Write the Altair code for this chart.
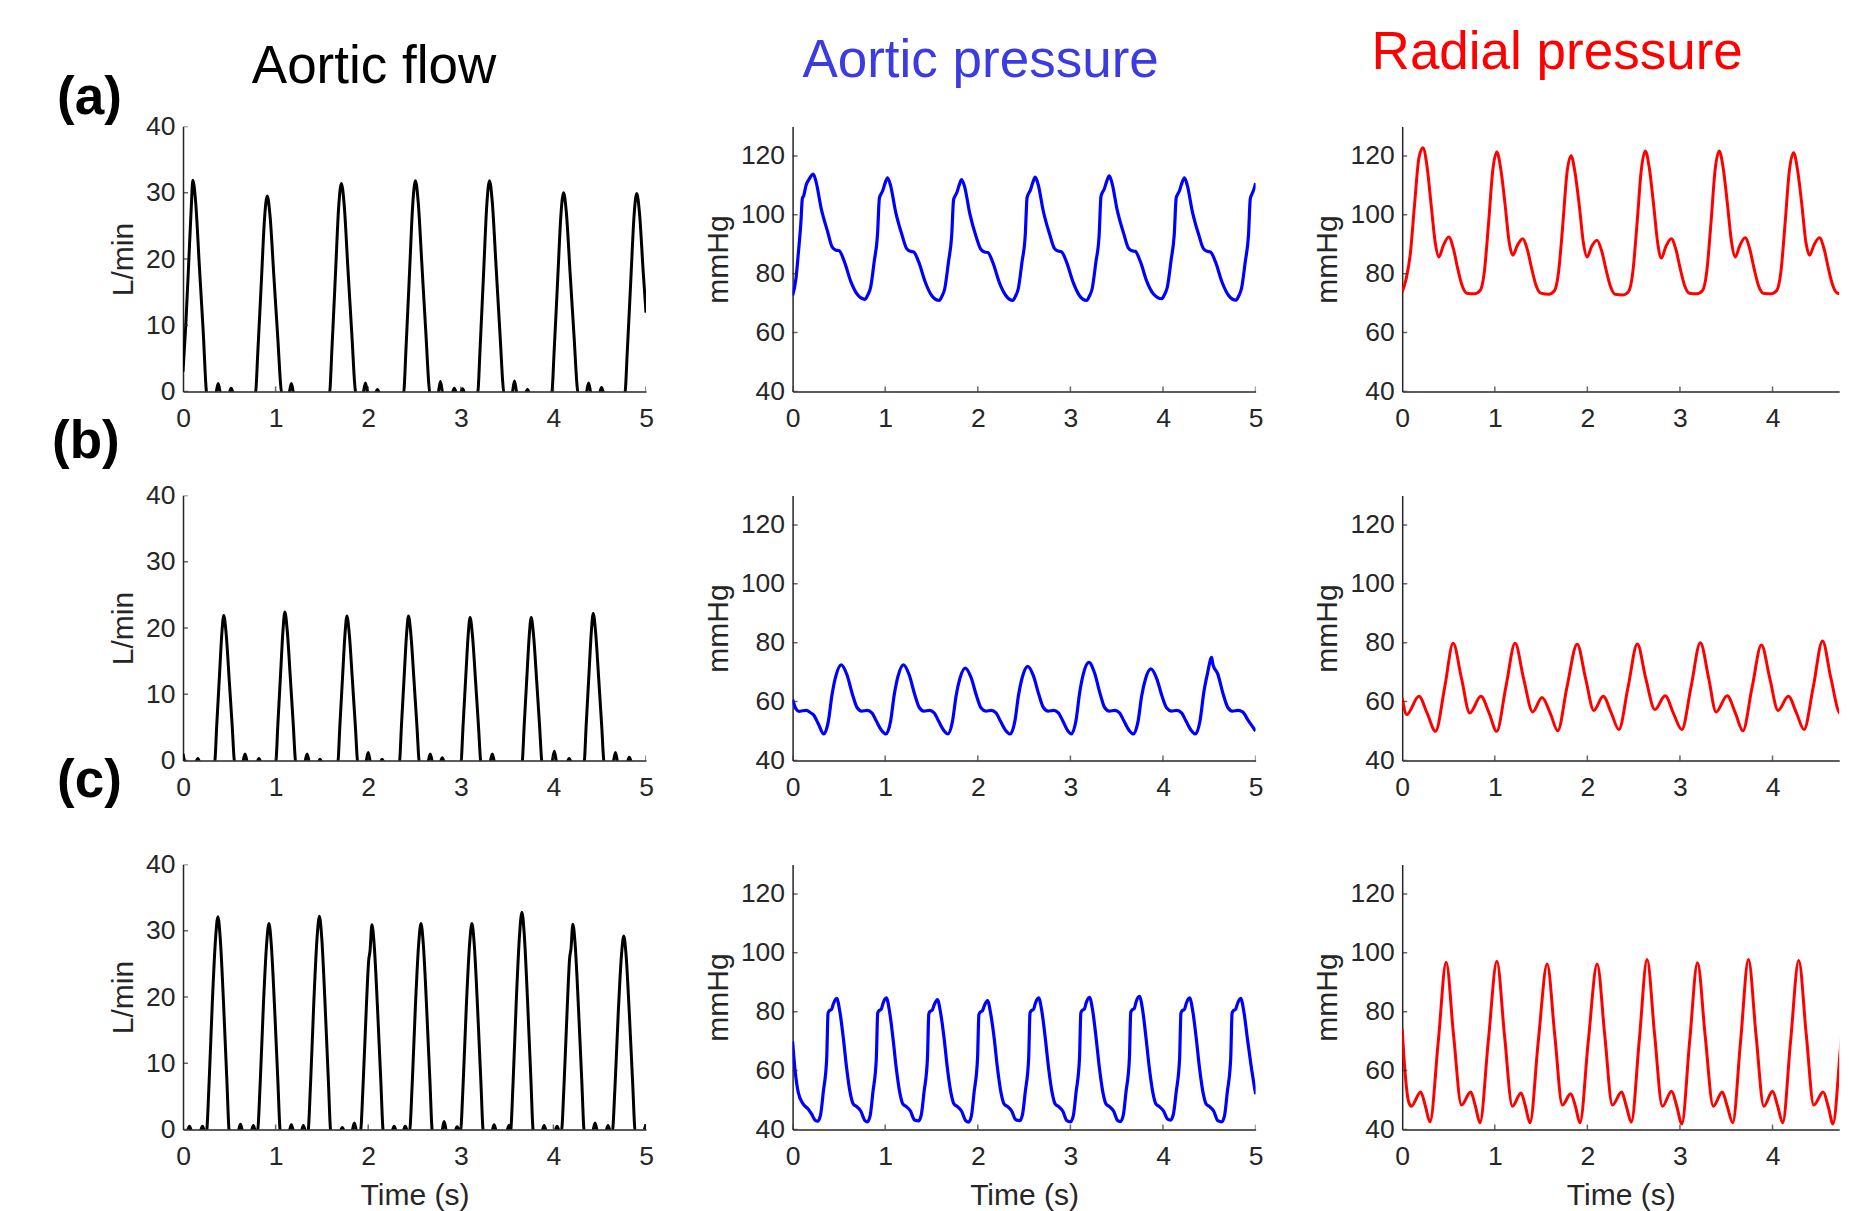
import altair as alt
import pandas as pd

# ---------------- tick values ----------------
TIME_TICKS = [0, 1, 2, 3, 4, 5]
TIME_TICKS_CUT = [0, 1, 2, 3, 4]
FLOW_TICKS = [0, 10, 20, 30, 40]
PRESS_TICKS = [40, 60, 80, 100, 120]

# ---------------- (a) aortic flow ----------------
FLOW_A = [
    (0, 3), (0.03, 10), (0.07, 22), (0.09, 28), (0.106, 31.9), (0.136, 28.7), (0.176, 19.1), (0.216, 9.6), (0.26, -0.5),
    (0.35, -0.5), (0.38, 1.2), (0.41, -0.5), (0.49, -0.5), (0.52, 0.5), (0.55, -0.5),
    (0.78, -0.5), (0.81, 6.5), (0.85, 17.7), (0.88, 26), (0.91, 29.5), (0.94, 26.5), (0.98, 17.7), (1.02, 8.9), (1.07, -0.5),
    (1.14, -0.5), (1.17, 1.2), (1.20, -0.5),
    (1.58, -0.5), (1.61, 6.9), (1.65, 18.8), (1.68, 27.6), (1.71, 31.4), (1.74, 28.3), (1.78, 18.8), (1.82, 9.4), (1.87, -0.5),
    (1.94, -0.5), (1.97, 1.3), (2.00, -0.5), (2.07, -0.5), (2.10, 0.3), (2.13, -0.5),
    (2.38, -0.5), (2.41, 7.0), (2.45, 19.1), (2.48, 28), (2.51, 31.8), (2.54, 28.6), (2.58, 19.1), (2.62, 9.5), (2.67, -0.5),
    (2.75, -0.5), (2.78, 1.5), (2.81, -0.5), (2.90, -0.5), (2.93, 0.5), (2.96, -0.5), (2.99, -0.5), (3.02, 0.4), (3.05, -0.5),
    (3.18, -0.5), (3.21, 7.0), (3.25, 19.1), (3.28, 28), (3.31, 31.8), (3.34, 28.6), (3.38, 19.1), (3.42, 9.5), (3.47, -0.5),
    (3.55, -0.5), (3.58, 1.6), (3.61, -0.5), (3.69, -0.5), (3.72, 0.3), (3.75, -0.5),
    (3.98, -0.5), (4.01, 6.6), (4.05, 18), (4.08, 26.4), (4.11, 30), (4.14, 27), (4.18, 18), (4.22, 9), (4.27, -0.5),
    (4.35, -0.5), (4.38, 1.3), (4.41, -0.5), (4.49, -0.5), (4.52, 0.6), (4.55, -0.5),
    (4.77, -0.5), (4.80, 6.6), (4.84, 18), (4.87, 26.3), (4.90, 29.9), (4.93, 26.9), (4.97, 18), (5.0, 11.9),
]

# ---------------- (b) aortic flow ----------------
FLOW_B = [
    (0.0, 1.0), (0.03, -0.5), (0.13, -0.5), (0.16, 0.3), (0.19, -0.5),
    (0.34, -0.5), (0.365, 5.5), (0.395, 13.1), (0.42, 19.3), (0.44, 21.9), (0.465, 19.3), (0.50, 12), (0.53, 5.5), (0.56, -0.5),
    (0.64, -0.5), (0.67, 1.0), (0.70, -0.5), (0.79, -0.5), (0.82, 0.3), (0.85, -0.5),
    (1.00, -0.5), (1.025, 5.6), (1.055, 13.4), (1.08, 19.7), (1.10, 22.4), (1.125, 19.7), (1.16, 12.3), (1.19, 5.6), (1.22, -0.5),
    (1.31, -0.5), (1.34, 1.0), (1.37, -0.5), (1.45, -0.5), (1.48, 0.2), (1.51, -0.5),
    (1.67, -0.5), (1.695, 5.5), (1.725, 13.1), (1.75, 19.2), (1.77, 21.8), (1.795, 19.2), (1.83, 12), (1.86, 5.5), (1.89, -0.5),
    (1.97, -0.5), (2.00, 1.2), (2.03, -0.5), (2.12, -0.5), (2.15, 0.2), (2.18, -0.5),
    (2.335, -0.5), (2.36, 5.5), (2.39, 13.1), (2.415, 19.2), (2.435, 21.8), (2.46, 19.2), (2.495, 12), (2.525, 5.5), (2.555, -0.5),
    (2.64, -0.5), (2.67, 1.0), (2.70, -0.5), (2.77, -0.5), (2.80, 0.4), (2.83, -0.5),
    (3.00, -0.5), (3.025, 5.4), (3.055, 13), (3.08, 19), (3.10, 21.6), (3.125, 19), (3.16, 11.9), (3.19, 5.4), (3.22, -0.5),
    (3.31, -0.5), (3.34, 1.0), (3.37, -0.5),
    (3.66, -0.5), (3.685, 5.4), (3.715, 13), (3.74, 19), (3.76, 21.6), (3.785, 19), (3.82, 11.9), (3.85, 5.4), (3.88, -0.5),
    (3.98, -0.5), (4.01, 1.4), (4.04, -0.5), (4.14, -0.5), (4.17, 0.3), (4.20, -0.5),
    (4.33, -0.5), (4.355, 5.6), (4.385, 13.3), (4.41, 19.5), (4.43, 22.2), (4.455, 19.5), (4.49, 12.2), (4.52, 5.6), (4.55, -0.5),
    (4.64, -0.5), (4.67, 1.2), (4.70, -0.5), (4.79, -0.5), (4.82, 0.5), (4.85, -0.5), (5.0, -0.5),
]

# ---------------- (c) aortic flow ----------------
FLOW_C = [
    (0.0, -0.5), (0.04, -0.5), (0.07, 0.5), (0.10, -0.5), (0.18, -0.5), (0.21, 0.5), (0.24, -0.5),
    (0.252, -0.5), (0.282, 7.1), (0.317, 19.3), (0.352, 28.9), (0.377, 32.1), (0.402, 28.9), (0.437, 19.3), (0.472, 8), (0.502, -0.5),
    (0.59, -0.5), (0.62, 0.8), (0.65, -0.5), (0.73, -0.5), (0.76, 0.6), (0.79, -0.5),
    (0.803, -0.5), (0.833, 6.8), (0.868, 18.7), (0.903, 28), (0.928, 31.1), (0.953, 28), (0.988, 18.7), (1.023, 7.8), (1.053, -0.5),
    (1.14, -0.5), (1.17, 0.7), (1.20, -0.5), (1.27, -0.5), (1.30, 0.6), (1.33, -0.5),
    (1.348, -0.5), (1.378, 7.1), (1.413, 19.3), (1.448, 29), (1.473, 32.2), (1.498, 29), (1.533, 19.3), (1.568, 8), (1.598, -0.5),
    (1.69, -0.5), (1.72, 0.3), (1.75, -0.5), (1.82, -0.5), (1.85, 1.0), (1.88, -0.5),
    (1.915, -0.5), (1.945, 6.8), (1.98, 18.5), (2.005, 25.5), (2.02, 27), (2.04, 30.9), (2.065, 27.8), (2.10, 18.5), (2.135, 7.7), (2.165, -0.5),
    (2.25, -0.5), (2.28, 0.5), (2.31, -0.5), (2.37, -0.5), (2.40, 0.5), (2.43, -0.5),
    (2.445, -0.5), (2.475, 6.8), (2.51, 18.7), (2.545, 28), (2.57, 31.1), (2.595, 28), (2.63, 18.7), (2.665, 7.8), (2.695, -0.5),
    (2.79, -0.5), (2.82, 1.2), (2.85, -0.5), (2.93, -0.5), (2.96, 0.4),
    (2.995, -0.5), (3.025, 6.8), (3.06, 18.7), (3.095, 28), (3.12, 31.1), (3.145, 28), (3.18, 18.7), (3.215, 7.8), (3.245, -0.5),
    (3.33, -0.5), (3.36, 0.7), (3.39, -0.5), (3.49, -0.5), (3.52, 0.6),
    (3.535, -0.5), (3.565, 7.2), (3.60, 19.7), (3.635, 29.5), (3.66, 32.8), (3.685, 29.5), (3.72, 19.7), (3.755, 8.2), (3.785, -0.5),
    (3.87, -0.5), (3.90, 0.6), (3.93, -0.5), (4.01, -0.5), (4.04, 0.5), (4.07, -0.5),
    (4.085, -0.5), (4.115, 6.8), (4.15, 18.6), (4.175, 25.8), (4.19, 27.3), (4.21, 31), (4.235, 27.9), (4.27, 18.6), (4.305, 7.8), (4.335, -0.5),
    (4.42, -0.5), (4.45, 1.0), (4.48, -0.5), (4.56, -0.5), (4.59, 0.6), (4.62, -0.5),
    (4.635, -0.5), (4.665, 6.4), (4.70, 17.5), (4.735, 26.3), (4.76, 29.2), (4.785, 26.3), (4.82, 17.5), (4.855, 7.3), (4.885, -0.5),
    (4.96, -0.5), (5.0, 0.8),
]

# ---------------- (a) aortic pressure ----------------
AORTIC_A = [
    (0.000, 72.6), (0.036, 78.3), (0.065, 88.0), (0.090, 97.6), (0.105, 105.5), (0.120, 106.5), (0.145, 110.0), (0.180, 112.2),
    (0.223, 113.8), (0.253, 111.3), (0.308, 102.3), (0.378, 94.3), (0.428, 89.0), (0.468, 88.0), (0.503, 87.8), (0.558, 84.2),
    (0.628, 77.4), (0.698, 73.0),
    (0.782, 71.3), (0.812, 72.8), (0.842, 75.3), (0.882, 84.3), (0.917, 93.3), (0.937, 105.6), (0.947, 106.6), (0.972, 108.1),
    (0.997, 110.6), (1.025, 112.6), (1.057, 110.1), (1.112, 101.1), (1.182, 93.1), (1.232, 88.5), (1.272, 87.6), (1.307, 87.4),
    (1.362, 84.0), (1.432, 77.2), (1.502, 72.6),
    (1.583, 70.9), (1.613, 72.4), (1.643, 74.9), (1.683, 83.9), (1.718, 92.9), (1.738, 105.0), (1.748, 106.0), (1.773, 107.5),
    (1.798, 110.0), (1.825, 112.0), (1.858, 109.5), (1.913, 100.5), (1.983, 92.5), (2.033, 88.3), (2.073, 87.4), (2.108, 87.2),
    (2.163, 83.8), (2.233, 77.0), (2.303, 72.6),
    (2.377, 70.9), (2.407, 72.4), (2.437, 74.9), (2.477, 83.9), (2.512, 92.9), (2.532, 105.8), (2.542, 106.8), (2.567, 108.3),
    (2.592, 110.8), (2.620, 112.8), (2.652, 110.3), (2.707, 101.3), (2.777, 93.3), (2.827, 88.6), (2.867, 87.7), (2.902, 87.5),
    (2.957, 84.1), (3.027, 77.3), (3.097, 72.6),
    (3.175, 70.9), (3.205, 72.4), (3.235, 74.9), (3.275, 83.9), (3.310, 92.9), (3.330, 106.2), (3.340, 107.2), (3.365, 108.7),
    (3.390, 111.2), (3.420, 113.2), (3.450, 110.7), (3.505, 101.7), (3.575, 93.7), (3.625, 88.8), (3.665, 87.8), (3.700, 87.6),
    (3.755, 84.2), (3.825, 77.4), (3.895, 73.2),
    (3.987, 71.5), (4.017, 73.0), (4.047, 75.5), (4.087, 84.5), (4.122, 93.5), (4.142, 105.6), (4.152, 106.6), (4.177, 108.1),
    (4.202, 110.6), (4.232, 112.6), (4.262, 110.1), (4.317, 101.1), (4.387, 93.1), (4.437, 88.5), (4.477, 87.6), (4.512, 87.4),
    (4.567, 84.0), (4.637, 77.2), (4.707, 72.7),
    (4.788, 71.0), (4.818, 72.5), (4.848, 75.0), (4.888, 84.0), (4.923, 93.0), (4.943, 105.5), (4.960, 107.0), (4.980, 108.5),
    (5.000, 110.8),
]

# ---------------- (b) aortic pressure ----------------
AORTIC_B = [
    (0.000, 60.7), (0.035, 57.6), (0.070, 56.7), (0.110, 56.9), (0.150, 57.0), (0.190, 56.3), (0.230, 55.4), (0.280, 52.3),
    (0.336, 49.0), (0.386, 53.3), (0.426, 62.4), (0.466, 68.6), (0.526, 72.5), (0.586, 69.2), (0.646, 62.5), (0.696, 58.0),
    (0.746, 56.8), (0.806, 57.0), (0.856, 56.2), (0.906, 53.3), (0.961, 50.2),
    (1.008, 49.0), (1.058, 53.3), (1.098, 62.4), (1.138, 68.6), (1.198, 72.5), (1.258, 69.2), (1.318, 62.5), (1.368, 58.0),
    (1.418, 56.8), (1.478, 57.0), (1.528, 56.2), (1.578, 53.3), (1.633, 50.2),
    (1.676, 49.0), (1.726, 53.2), (1.766, 62.0), (1.806, 67.8), (1.866, 71.4), (1.926, 68.3), (1.986, 62.0), (2.036, 57.8),
    (2.086, 56.8), (2.146, 57.0), (2.196, 56.2), (2.246, 53.3), (2.301, 50.2),
    (2.350, 49.0), (2.400, 53.3), (2.440, 62.2), (2.480, 68.2), (2.540, 72.0), (2.600, 68.8), (2.660, 62.3), (2.710, 57.9),
    (2.760, 56.8), (2.820, 57.0), (2.870, 56.2), (2.920, 53.3), (2.970, 50.2),
    (3.010, 49.0), (3.060, 53.5), (3.100, 63.0), (3.140, 69.4), (3.200, 73.3), (3.260, 69.8), (3.320, 62.8), (3.370, 58.0),
    (3.420, 56.8), (3.480, 57.0), (3.530, 56.2), (3.580, 53.3), (3.635, 50.2),
    (3.680, 49.0), (3.730, 53.2), (3.770, 62.0), (3.810, 67.6), (3.870, 71.1), (3.930, 68.0), (3.990, 61.8), (4.040, 57.8),
    (4.090, 56.8), (4.150, 57.0), (4.200, 56.2), (4.250, 53.3), (4.305, 50.2),
    (4.350, 49.0), (4.400, 53.5), (4.440, 63.0), (4.480, 69.5), (4.525, 75.0), (4.540, 72.5), (4.590, 69.5), (4.650, 62.5),
    (4.700, 58.0), (4.750, 56.8), (4.810, 57.0), (4.860, 56.5), (4.920, 53.6), (5.000, 50.0),
]

# ---------------- (c) aortic pressure ----------------
AORTIC_C = [
    (0.000, 69.9), (0.025, 60.7), (0.061, 52.6), (0.115, 48.6), (0.170, 46.9), (0.206, 45.2), (0.242, 43.2),
    (0.271, 42.8), (0.301, 44.8), (0.331, 52.6), (0.368, 64.0), (0.383, 79.5), (0.396, 80.3), (0.421, 80.8), (0.441, 82.7),
    (0.476, 84.5), (0.511, 79.9), (0.548, 71.0), (0.584, 60.7), (0.621, 52.6), (0.656, 48.6), (0.691, 47.8), (0.736, 46.3), (0.781, 43.0),
    (0.807, 42.6), (0.837, 44.6), (0.867, 52.6), (0.904, 64.0), (0.919, 79.5), (0.932, 80.3), (0.957, 80.8), (0.977, 82.9),
    (1.012, 84.7), (1.047, 80.1), (1.084, 71.0), (1.120, 60.7), (1.157, 52.6), (1.192, 48.6), (1.227, 47.8), (1.272, 46.3), (1.317, 43.2),
    (1.359, 42.9), (1.389, 44.9), (1.419, 52.6), (1.456, 64.0), (1.471, 79.3), (1.484, 80.1), (1.509, 80.6), (1.529, 82.3),
    (1.564, 84.1), (1.599, 79.5), (1.636, 71.0), (1.672, 60.7), (1.709, 52.6), (1.744, 48.6), (1.779, 47.8), (1.824, 46.3), (1.869, 43.0),
    (1.900, 42.5), (1.930, 44.5), (1.960, 52.6), (1.997, 64.0), (2.012, 79.0), (2.025, 79.8), (2.050, 80.3), (2.070, 82.0),
    (2.105, 83.8), (2.140, 79.2), (2.177, 71.0), (2.213, 60.7), (2.250, 52.6), (2.285, 48.6), (2.320, 47.8), (2.365, 46.3), (2.410, 43.3),
    (2.452, 43.0), (2.482, 45.0), (2.512, 52.6), (2.549, 64.0), (2.564, 79.5), (2.577, 80.3), (2.602, 80.8), (2.622, 82.9),
    (2.657, 84.7), (2.692, 80.1), (2.729, 71.0), (2.765, 60.7), (2.802, 52.6), (2.837, 48.6), (2.872, 47.8), (2.917, 46.3), (2.962, 43.0),
    (3.001, 42.6), (3.031, 44.6), (3.061, 52.6), (3.098, 64.0), (3.113, 79.6), (3.126, 80.4), (3.151, 80.9), (3.171, 83.1),
    (3.206, 84.9), (3.241, 80.3), (3.278, 71.0), (3.314, 60.7), (3.351, 52.6), (3.386, 48.6), (3.421, 47.8), (3.466, 46.3), (3.511, 43.0),
    (3.540, 42.7), (3.570, 44.7), (3.600, 52.6), (3.637, 64.0), (3.652, 79.8), (3.665, 80.6), (3.690, 81.1), (3.710, 83.4),
    (3.745, 85.2), (3.780, 80.6), (3.817, 71.0), (3.853, 60.7), (3.890, 52.6), (3.925, 48.6), (3.960, 47.8), (4.005, 46.3), (4.050, 43.5),
    (4.082, 43.2), (4.112, 45.2), (4.142, 52.6), (4.179, 64.0), (4.194, 79.5), (4.207, 80.3), (4.232, 80.8), (4.252, 82.9),
    (4.287, 84.7), (4.322, 80.1), (4.359, 71.0), (4.395, 60.7), (4.432, 52.6), (4.467, 48.6), (4.502, 47.8), (4.547, 46.3), (4.592, 43.0),
    (4.634, 42.6), (4.664, 44.6), (4.694, 52.6), (4.731, 64.0), (4.746, 79.5), (4.759, 80.3), (4.784, 80.8), (4.804, 82.7),
    (4.839, 84.5), (4.874, 79.9), (4.911, 71.0), (4.950, 62.0), (5.000, 52.0),
]

# ---------------- (a) radial pressure ----------------
RADIAL_A = [
    (0.000, 73.8), (0.043, 78.3), (0.086, 86.3), (0.133, 103.3), (0.180, 119.2), (0.223, 122.8), (0.266, 117.0), (0.313, 103.3),
    (0.356, 90.8), (0.396, 85.7), (0.446, 89.7), (0.503, 92.5), (0.553, 88.5), (0.600, 81.7), (0.647, 76.0), (0.698, 73.4),
    (0.780, 73.2), (0.842, 74.3), (0.887, 80.6), (0.934, 97.6), (0.977, 114.7),
    (1.022, 121.3), (1.065, 115.5), (1.112, 103.3), (1.155, 90.8), (1.195, 86.3), (1.245, 89.7), (1.302, 91.9), (1.352, 88.2),
    (1.399, 81.7), (1.446, 76.0), (1.497, 73.4), (1.584, 73.0), (1.644, 74.2), (1.689, 80.6), (1.736, 97.2), (1.779, 114.0),
    (1.824, 120.1), (1.867, 114.3), (1.914, 102.8), (1.957, 90.5), (1.997, 85.7), (2.047, 89.3), (2.104, 91.4), (2.154, 87.8),
    (2.201, 81.5), (2.248, 75.8), (2.299, 73.0), (2.386, 72.8), (2.446, 74.0), (2.491, 80.6), (2.538, 97.6), (2.581, 114.8),
    (2.626, 121.7), (2.669, 115.9), (2.716, 103.3), (2.759, 90.6), (2.799, 85.3), (2.849, 89.3), (2.906, 91.9), (2.956, 88.3),
    (3.003, 81.7), (3.050, 76.0), (3.101, 73.4), (3.184, 73.2), (3.244, 74.3), (3.289, 80.6), (3.336, 97.6), (3.379, 115.0),
    (3.424, 121.7), (3.467, 115.9), (3.514, 103.3), (3.557, 90.8), (3.597, 85.7), (3.647, 89.6), (3.704, 92.2), (3.754, 88.4),
    (3.801, 81.7), (3.848, 76.0), (3.899, 73.4), (3.985, 73.2), (4.045, 74.3), (4.090, 80.6), (4.137, 97.6), (4.180, 114.5),
    (4.227, 121.1), (4.270, 115.3), (4.317, 103.3), (4.360, 90.8), (4.400, 86.3), (4.450, 89.9), (4.507, 92.2), (4.557, 88.4),
    (4.604, 81.7), (4.651, 76.0), (4.702, 73.4), (4.785, 73.2), (4.845, 74.3), (4.890, 80.6), (4.937, 97.6), (4.980, 114.7),
    (5.000, 118.5),
]

# ---------------- (b) radial pressure ----------------
RADIAL_B = [
    (0.00, 61.2), (0.05, 55.6), (0.18, 61.8), (0.27, 56.0), (0.36, 49.9), (0.46, 65.0), (0.55, 79.8), (0.64, 68.0),
    (0.73, 56.1), (0.85, 61.8), (0.94, 56.0), (1.02, 49.9), (1.12, 65.0), (1.22, 79.8), (1.31, 68.0), (1.41, 56.5),
    (1.51, 61.4), (1.60, 56.0), (1.68, 50.1), (1.78, 65.0), (1.89, 79.5), (1.98, 68.0), (2.07, 57.0), (2.17, 61.8),
    (2.26, 56.0), (2.34, 50.5), (2.44, 65.0), (2.54, 79.6), (2.63, 68.0), (2.73, 57.3), (2.84, 62.0), (2.93, 56.0),
    (3.02, 50.5), (3.12, 65.0), (3.22, 80.0), (3.31, 68.0), (3.39, 56.5), (3.51, 62.0), (3.60, 56.0), (3.68, 50.1),
    (3.78, 65.0), (3.88, 79.2), (3.97, 68.0), (4.06, 57.0), (4.17, 61.8), (4.26, 56.0), (4.34, 50.5), (4.44, 65.0),
    (4.54, 80.6), (4.63, 68.0), (4.73, 56.1), (4.84, 62.0), (4.93, 56.0), (5.00, 51.0),
]

# ---------------- (c) radial pressure ----------------
RADIAL_C = [
    (0.000, 74.2), (0.030, 59.8), (0.068, 49.6), (0.098, 47.9), (0.200, 52.7), (0.250, 48.0), (0.300, 42.6), (0.390, 70.0),
    (0.475, 96.8), (0.555, 72.0), (0.640, 48.3), (0.740, 52.7), (0.790, 48.0), (0.840, 42.3), (0.930, 70.0),
    (1.023, 97.1), (1.105, 72.0), (1.190, 47.9), (1.283, 52.4), (1.330, 48.0), (1.380, 42.3), (1.470, 70.0),
    (1.566, 96.2), (1.648, 72.0), (1.730, 48.3), (1.820, 52.1), (1.870, 48.0), (1.920, 42.3), (2.010, 70.0),
    (2.106, 96.2), (2.188, 72.0), (2.270, 48.3), (2.370, 52.7), (2.420, 48.0), (2.475, 42.5), (2.560, 70.0),
    (2.645, 97.7), (2.727, 72.0), (2.810, 47.9), (2.910, 53.0), (2.965, 48.0), (3.020, 41.9), (3.105, 70.0),
    (3.190, 96.6), (3.272, 72.0), (3.360, 47.9), (3.457, 52.7), (3.510, 48.0), (3.570, 42.3), (3.655, 70.0),
    (3.740, 97.7), (3.822, 72.0), (3.906, 47.9), (4.000, 53.0), (4.055, 48.0), (4.110, 42.3), (4.195, 70.0),
    (4.283, 97.4), (4.365, 72.0), (4.445, 48.3), (4.547, 52.7), (4.600, 48.0), (4.653, 41.9), (4.740, 70.0),
    (4.830, 96.5), (4.910, 72.0), (5.000, 48.5),
]

COLUMN_TITLES = ["Aortic flow", "Aortic pressure", "Radial pressure"]
ROW_LABELS = ["(a)", "(b)", "(c)"]

AX = "#262626"
FONT = "Liberation Sans"
W_MAIN = 463
W_CUT = 437          # third column is cut by the right edge of the figure
X_CUT = 4.72
H = 265


def text_layer(txt, x, y, size, color, weight="normal", align="left"):
    return alt.Chart(pd.DataFrame({"label": [txt]})).mark_text(
        font=FONT, fontSize=size, fontWeight=weight, color=color,
        align=align, baseline="alphabetic"
    ).encode(text="label:N", x=alt.value(x), y=alt.value(y))


def panel(points, color, lw, ymin, ymax, yticks, ytitle, xmax, xticks, xtitle, width, extras):
    df = pd.DataFrame(points, columns=["t", "v"])
    xs = alt.Scale(domain=[0, xmax], nice=False, zero=False)
    ys = alt.Scale(domain=[ymin, ymax], nice=False, zero=False)
    xaxis = alt.Axis(values=xticks, format="d", labelPadding=14, titlePadding=10,
                     title=xtitle if xtitle else "")
    yaxis = alt.Axis(values=yticks, format="d", title=ytitle, labelPadding=8, titlePadding=7)
    line = alt.Chart(df).mark_line(
        color=color, strokeWidth=lw, clip=True, interpolate="monotone"
    ).encode(x=alt.X("t:Q", scale=xs, axis=xaxis), y=alt.Y("v:Q", scale=ys, axis=yaxis))
    xt = pd.DataFrame({"t": xticks, "v": [ymin] * len(xticks)})
    xtl = alt.Chart(xt).mark_tick(
        orient="vertical", size=10, thickness=1.5, color=AX, clip=True
    ).encode(x=alt.X("t:Q", scale=xs, axis=xaxis), y=alt.Y("v:Q", scale=ys, axis=yaxis))
    yt = pd.DataFrame({"t": [0] * len(yticks), "v": yticks})
    ytl = alt.Chart(yt).mark_tick(
        orient="horizontal", size=10, thickness=1.5, color=AX, clip=True
    ).encode(x=alt.X("t:Q", scale=xs, axis=xaxis), y=alt.Y("v:Q", scale=ys, axis=yaxis))
    return alt.layer(line, xtl, ytl, *extras).properties(width=width, height=H)


BLACK = "#000000"
BLUE = "#0000ff"
RED = "#ff0000"

panels = [
    panel(FLOW_A, BLACK, 3, 0, 40, FLOW_TICKS, "L/min", 5, TIME_TICKS, None, W_MAIN,
          [text_layer(ROW_LABELS[0], -126, -13, 53, BLACK, "bold"),
           text_layer(COLUMN_TITLES[0], 191, -43.5, 53, BLACK, align="center")]),
    panel(AORTIC_A, BLUE, 3.2, 40, 130, PRESS_TICKS, "mmHg", 5, TIME_TICKS, None, W_MAIN,
          [text_layer(COLUMN_TITLES[1], 188, -50, 53, "#3b3bdf", align="center")]),
    panel(RADIAL_A, RED, 3, 40, 130, PRESS_TICKS, "mmHg", X_CUT, TIME_TICKS_CUT, None, W_CUT,
          [text_layer(COLUMN_TITLES[2], 155, -58, 53, RED, align="center")]),
    panel(FLOW_B, BLACK, 3, 0, 40, FLOW_TICKS, "L/min", 5, TIME_TICKS, None, W_MAIN,
          [text_layer(ROW_LABELS[1], -131, -37.5, 53, BLACK, "bold")]),
    panel(AORTIC_B, BLUE, 3.2, 40, 130, PRESS_TICKS, "mmHg", 5, TIME_TICKS, None, W_MAIN, []),
    panel(RADIAL_B, RED, 3, 40, 130, PRESS_TICKS, "mmHg", X_CUT, TIME_TICKS_CUT, None, W_CUT, []),
    panel(FLOW_C, BLACK, 3, 0, 40, FLOW_TICKS, "L/min", 5, TIME_TICKS, "Time (s)", W_MAIN,
          [text_layer(ROW_LABELS[2], -126, -68, 53, BLACK, "bold")]),
    panel(AORTIC_C, BLUE, 3.2, 40, 130, PRESS_TICKS, "mmHg", 5, TIME_TICKS, "Time (s)", W_MAIN, []),
    panel(RADIAL_C, RED, 3, 40, 130, PRESS_TICKS, "mmHg", X_CUT, TIME_TICKS_CUT, "Time (s)", W_CUT, []),
]

chart = alt.concat(
    *panels, columns=3, spacing={"row": 104, "column": 146.6}, bounds="flush"
).properties(
    padding={"left": 44, "top": 18.5, "right": 0, "bottom": 0},
    background="white",
).configure_view(stroke=None).configure_axis(
    domainColor=AX, domainWidth=1.5, labelColor=AX, titleColor=AX,
    labelFont=FONT, titleFont=FONT, labelFontSize=26.5, titleFontSize=30,
    titleFontWeight="normal", grid=False, ticks=False, tickSize=0,
    labelFlush=False, labelOverlap=False, labelBound=False,
)

chart.save("out.html", embed_options={"renderer": "svg", "actions": False})
